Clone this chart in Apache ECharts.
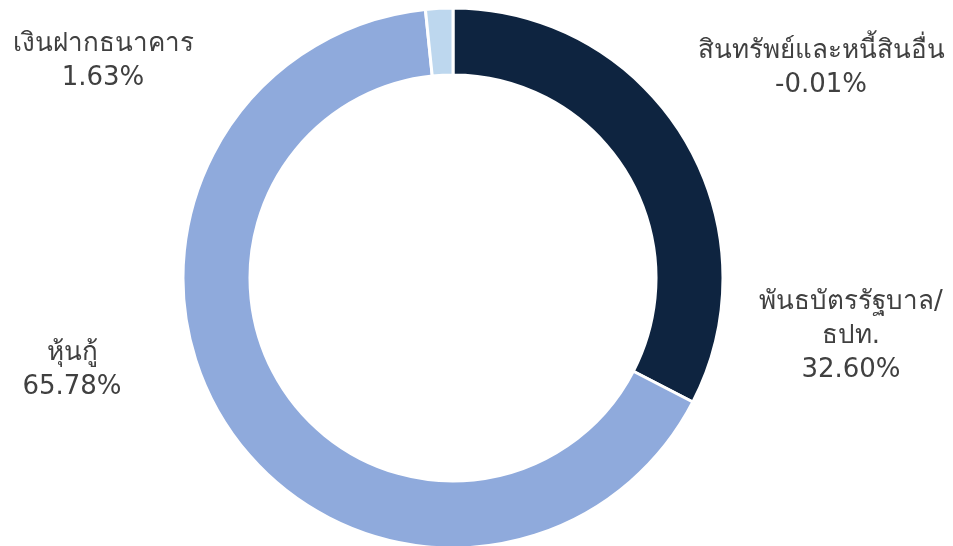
<!DOCTYPE html>
<html>
<head>
<meta charset="utf-8">
<script src="https://cdn.jsdelivr.net/npm/echarts@6/dist/echarts.min.js"></script>
<style>
html,body{margin:0;padding:0;background:#fff;}
#chart{width:953px;height:546px;}
</style>
</head>
<body>
<div id="chart"></div>
<script>
const categories = ['สินทรัพย์และหนี้สินอื่น', 'พันธบัตรรัฐบาล/\nธปท.', 'หุ้นกู้', 'เงินฝากธนาคาร'];
const values = [-0.01, 32.60, 65.78, 1.63];
const colors = ['#7F7F7F', '#0E2440', '#8FAADC', '#BDD7EE'];
const labelPos = [[821, 68], [851, 336], [72, 370], [103, 61]];

const chart = echarts.init(document.getElementById('chart'));
chart.setOption({
  animation: false,
  series: [{
    type: 'pie',
    center: [453, 278],
    radius: [203, 270],
    startAngle: 90,
    clockwise: true,
    avoidLabelOverlap: false,
    minShowLabelAngle: 0,
    itemStyle: { borderColor: '#ffffff', borderWidth: 3 },
    label: {
      show: true,
      position: 'outside',
      color: '#404040',
      fontSize: 26,
      lineHeight: 34,
      fontFamily: 'Tahoma, "DejaVu Sans", sans-serif',
      align: 'center',
      formatter: function (p) {
        return categories[p.dataIndex] + '\n' + values[p.dataIndex].toFixed(2) + '%';
      }
    },
    labelLine: { show: false },
    labelLayout: function (p) {
      const pos = labelPos[p.dataIndex];
      return { x: pos[0], y: pos[1], align: 'center', verticalAlign: 'middle' };
    },
    data: categories.map(function (c, i) {
      return { name: c, value: Math.max(values[i], 0), itemStyle: { color: colors[i] } };
    })
  }]
});
</script>
</body>
</html>
